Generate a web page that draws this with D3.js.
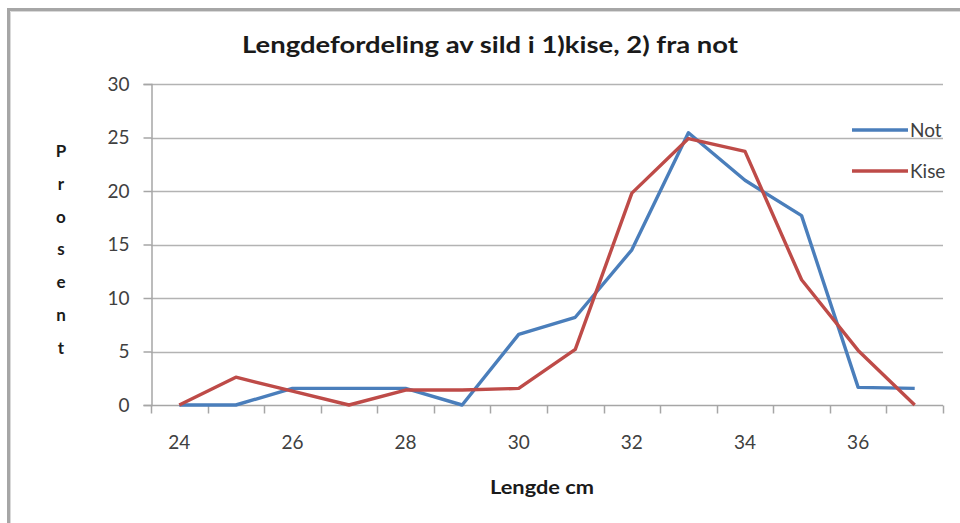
<!DOCTYPE html>
<html>
<head>
<meta charset="utf-8">
<script src="https://cdn.jsdelivr.net/npm/d3@7"></script>
<style>
  html, body { margin: 0; padding: 0; background: #fff; }
  svg { display: block; }
  text { font-family: Lato, "Open Sans", sans-serif; }
</style>
</head>
<body>
<svg id="chart" width="960" height="523"></svg>
<script>
const categories = [24, 25, 26, 27, 28, 29, 30, 31, 32, 33, 34, 35, 36, 37];
const notValues  = [0, 0, 1.55, 1.55, 1.55, 0, 6.6, 8.2, 14.5, 25.45, 21.0, 17.7, 1.65, 1.55];
const kiseValues = [0, 2.6, 1.3, 0, 1.4, 1.4, 1.55, 5.2, 19.8, 24.9, 23.7, 11.7, 5.1, 0];
const yTicks = [0, 5, 10, 15, 20, 25, 30];
const xTickLabels = [24, 26, 28, 30, 32, 34, 36];
const seriesNames = ["Not", "Kise"];
const seriesColors = ["#4a7ebb", "#be4b48"];
const titleText = "Lengdefordeling av sild i 1)kise, 2) fra not";
const xTitle = "Lengde cm";
const yTitle = "Prosent";

const svg = d3.select("#chart");

// chart frame (left and top border like the screenshot)
svg.append("path")
  .attr("d", "M8.5,523 L8.5,9.5 L960,9.5")
  .attr("fill", "none").attr("stroke", "#a6a6a6").attr("stroke-width", 3);
svg.append("path")
  .attr("d", "M10.5,523 L10.5,11.5 L960,11.5")
  .attr("fill", "none").attr("stroke", "#d9d9d9").attr("stroke-width", 1);

const plot = { left: 151, right: 943, top: 84, bottom: 405 };

const x = d3.scaleBand().domain(categories).range([plot.left, plot.right]).padding(0);
const y = d3.scaleLinear().domain([0, 30]).range([plot.bottom, plot.top]);

// gridlines
svg.append("g").selectAll("line").data(yTicks.filter(d => d > 0)).join("line")
  .attr("x1", plot.left).attr("x2", plot.right)
  .attr("y1", d => Math.round(y(d)) + 0.5).attr("y2", d => Math.round(y(d)) + 0.5)
  .attr("stroke", "#b3b3b3").attr("stroke-width", 1.5);

// y axis
const yAxis = d3.axisLeft(y).tickValues(yTicks).tickSize(8).tickPadding(14);
const gy = svg.append("g").attr("transform", `translate(${plot.left + 0.5},0)`).call(yAxis);
gy.select(".domain").attr("stroke", "#a6a6a6").attr("stroke-width", 1.5);
gy.selectAll(".tick line").attr("stroke", "#a6a6a6").attr("stroke-width", 1.5);
gy.selectAll(".tick text").attr("fill", "#404040").attr("font-size", 19)
  .attr("font-family", "Lato, sans-serif");

// x axis: ticks between categories, labels every other category
const gx = svg.append("g").attr("transform", `translate(0,${plot.bottom + 0.5})`);
gx.append("line").attr("x1", plot.left).attr("x2", plot.right)
  .attr("stroke", "#a6a6a6").attr("stroke-width", 1.5);
const boundaries = categories.map(c => x(c)).concat([x(categories[categories.length - 1]) + x.bandwidth()]);
gx.selectAll("line.tk").data(boundaries).join("line").attr("class", "tk")
  .attr("x1", d => Math.round(d) + 0.5).attr("x2", d => Math.round(d) + 0.5)
  .attr("y1", 0).attr("y2", 8)
  .attr("stroke", "#a6a6a6").attr("stroke-width", 1.5);
gx.selectAll("text").data(xTickLabels).join("text")
  .attr("x", d => x(d) + x.bandwidth() / 2)
  .attr("y", 43)
  .attr("text-anchor", "middle")
  .attr("fill", "#404040").attr("font-size", 19)
  .text(d => d);

// lines
const line = d3.line()
  .x((d, i) => x(categories[i]) + x.bandwidth() / 2)
  .y(d => y(d));
[notValues, kiseValues].forEach((vals, i) => {
  svg.append("path").datum(vals)
    .attr("d", line)
    .attr("fill", "none")
    .attr("stroke", seriesColors[i])
    .attr("stroke-width", 3.4)
    .attr("stroke-linejoin", "round");
});

// legend
const legend = svg.append("g");
seriesNames.forEach((name, i) => {
  const ly = 130 + i * 41;
  legend.append("line").attr("x1", 852).attr("x2", 908)
    .attr("y1", ly).attr("y2", ly)
    .attr("stroke", seriesColors[i]).attr("stroke-width", 3.4);
  legend.append("text").attr("x", 910).attr("y", ly + 7)
    .attr("fill", "#404040").attr("font-size", 19).text(name);
});

// title
svg.append("text").attr("x", 490).attr("y", 53)
  .attr("text-anchor", "middle")
  .attr("font-size", 23).attr("font-weight", "bold").attr("fill", "#1a1a1a")
  .attr("textLength", 496).attr("lengthAdjust", "spacingAndGlyphs")
  .text(titleText);

// x title
svg.append("text").attr("x", 542).attr("y", 494)
  .attr("text-anchor", "middle")
  .attr("font-size", 18).attr("font-weight", "bold").attr("fill", "#1a1a1a")
  .attr("textLength", 104).attr("lengthAdjust", "spacingAndGlyphs")
  .text(xTitle);

// y title: stacked letters
svg.append("g").selectAll("text").data(yTitle.split("")).join("text")
  .attr("x", 61).attr("y", (d, i) => 157 + i * 32.8)
  .attr("text-anchor", "middle")
  .attr("font-size", 17).attr("font-weight", "bold").attr("fill", "#1a1a1a")
  .text(d => d);
</script>
</body>
</html>
